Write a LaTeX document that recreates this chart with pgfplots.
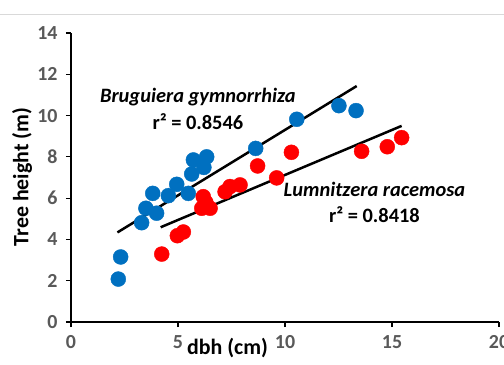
\documentclass[border=0pt]{standalone}
\usepackage{fontspec}
\setmainfont{Carlito}
\usepackage{pgfplots}
\pgfplotsset{compat=1.18}
\definecolor{bblue}{HTML}{0070C0}
\definecolor{rred}{HTML}{FF0000}
\definecolor{tickgray}{HTML}{595959}
\begin{document}
\begin{tikzpicture}
\begin{axis}[
 at={(0bp,0bp)}, anchor=south west,
 scale only axis, width=428bp, height=289bp,
 xmin=0, xmax=20, ymin=0, ymax=14,
 axis x line*=bottom, axis y line*=left,
 xtick={0,5,10,15,20}, ytick={0,2,4,6,8,10,12,14},
 tick align=outside, major tick length=5bp,
 tick style={black, line width=1.2bp},
 axis line style={black, line width=1.5bp},
 tick label style={font=\fontsize{20}{20}\selectfont\bfseries, text=tickgray},
 xticklabel style={yshift=-5bp},
 yticklabel style={xshift=-5bp},
 /pgf/number format/assume math mode=true,
 clip=false,
]
\addplot[only marks, mark=*, mark size=7.5bp, color=bblue, mark options={draw=none, fill=bblue}] coordinates {
(2.21,2.08) (2.32,3.15) (3.30,4.81) (3.50,5.51) (4.00,5.27) (3.82,6.23)
(4.55,6.12) (4.94,6.67) (5.48,6.23) (5.64,7.17) (5.72,7.85) (6.21,7.49)
(6.34,8.00) (8.63,8.41) (10.55,9.82) (12.52,10.48) (13.32,10.24)
};
\addplot[only marks, mark=*, mark size=7.5bp, color=rred, mark options={draw=none, fill=rred}] coordinates {
(4.24,3.29) (4.97,4.18) (5.25,4.36) (6.11,5.51) (6.50,5.51) (6.30,5.80)
(6.18,6.07) (7.20,6.31) (7.43,6.56) (7.90,6.64) (8.72,7.56) (9.61,6.98)
(10.30,8.22) (13.58,8.27) (14.78,8.49) (15.45,8.93)
};
\addplot[black, line width=2.5bp] coordinates {(2.17,4.34) (13.35,11.43)};
\addplot[black, line width=2.5bp] coordinates {(4.19,4.59) (15.45,9.50)};
\node[font=\fontsize{20.5}{20.5}\selectfont\bfseries\itshape] at (axis cs:5.93,10.92) {Bruguiera gymnorrhiza};
\node[font=\fontsize{20.5}{20.5}\selectfont\bfseries] at (axis cs:5.93,9.70) {r² = 0.8546};
\node[font=\fontsize{20.5}{20.5}\selectfont\bfseries\itshape] at (axis cs:14.18,6.40) {Lumnitzera racemosa};
\node[font=\fontsize{20.5}{20.5}\selectfont\bfseries] at (axis cs:14.18,5.18) {r² = 0.8418};
\end{axis}
\node[font=\fontsize{22}{22}\selectfont\bfseries] at (156.5bp,-26bp) {dbh (cm)};
\node[font=\fontsize{22}{22}\selectfont\bfseries, rotate=90] at (-49bp,145bp) {Tree height (m)};
\draw[black!15, line width=1bp] (-71bp,307bp) -- (433bp,307bp);
\pgfresetboundingbox
\useasboundingbox (-71bp,-43bp) rectangle (433bp,322bp);
\end{tikzpicture}
\end{document}
